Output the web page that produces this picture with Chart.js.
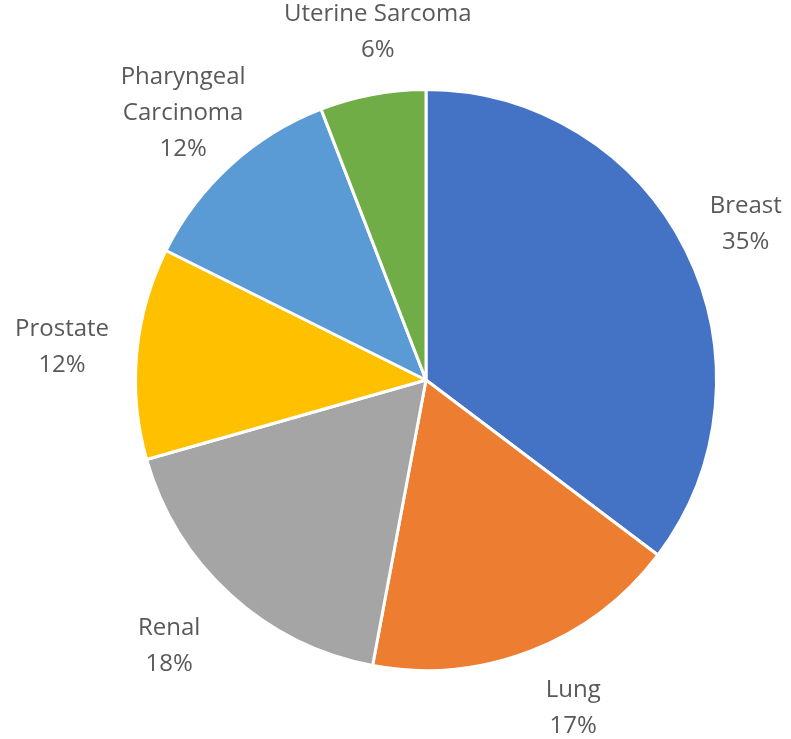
<!DOCTYPE html>
<html>
<head>
<meta charset="utf-8">
<script src="https://cdn.jsdelivr.net/npm/chart.js@4"></script>
<style>
  html, body { margin: 0; padding: 0; background: #fff; }
  #wrap { width: 791px; height: 739px; }
</style>
</head>
<body>
<div id="wrap"><canvas id="pie" width="791" height="739"></canvas></div>
<script>
const categories = ['Breast', 'Lung', 'Renal', 'Prostate', 'Pharyngeal Carcinoma', 'Uterine Sarcoma'];
const labelLines = [['Breast'], ['Lung'], ['Renal'], ['Prostate'], ['Pharyngeal', 'Carcinoma'], ['Uterine Sarcoma']];
// case counts (slice sizes) and the rounded percentages printed on the chart
const counts = [6, 3, 3, 2, 2, 1];
const percents = [35, 17, 18, 12, 12, 6];
const colours = ['#4472C4', '#ED7D31', '#A5A5A5', '#FFC000', '#5B9BD5', '#70AD47'];

// small hand nudges so labels sit where the original put them (px)
const labelNudge = [[-3, 5], [17, -8], [-14, 0], [-5, 0], [0, 0], [18, 7]];

// labels outside each slice, placed from the arc geometry
const outsideLabels = {
    id: 'outsideLabels',
    afterDatasetsDraw(chart) {
        const ctx = chart.ctx;
        const meta = chart.getDatasetMeta(0);
        ctx.save();
        ctx.font = '24px "Open Sans", sans-serif';
        ctx.fillStyle = '#595959';
        ctx.textAlign = 'center';
        ctx.textBaseline = 'middle';
        meta.data.forEach((arc, i) => {
            const mid = (arc.startAngle + arc.endAngle) / 2;
            const r = arc.outerRadius + 70;
            const x = arc.x + Math.cos(mid) * r + labelNudge[i][0];
            const y = arc.y + Math.sin(mid) * r + labelNudge[i][1];
            const lines = labelLines[i].concat([percents[i] + '%']);
            const lh = 36;
            const top = y - (lines.length - 1) * lh / 2;
            lines.forEach((t, k) => ctx.fillText(t, x, top + k * lh));
        });
        ctx.restore();
    }
};

new Chart(document.getElementById('pie').getContext('2d'), {
    type: 'pie',
    data: {
        labels: categories,
        datasets: [{
            data: counts,
            backgroundColor: colours,
            borderColor: '#ffffff',
            borderWidth: 3
        }]
    },
    options: {
        responsive: false,
        animation: false,
        layout: { padding: { left: 134, right: 73, top: 88, bottom: 67 } },
        plugins: {
            legend: { display: false },
            tooltip: { enabled: false }
        }
    },
    plugins: [outsideLabels]
});
</script>
</body>
</html>
